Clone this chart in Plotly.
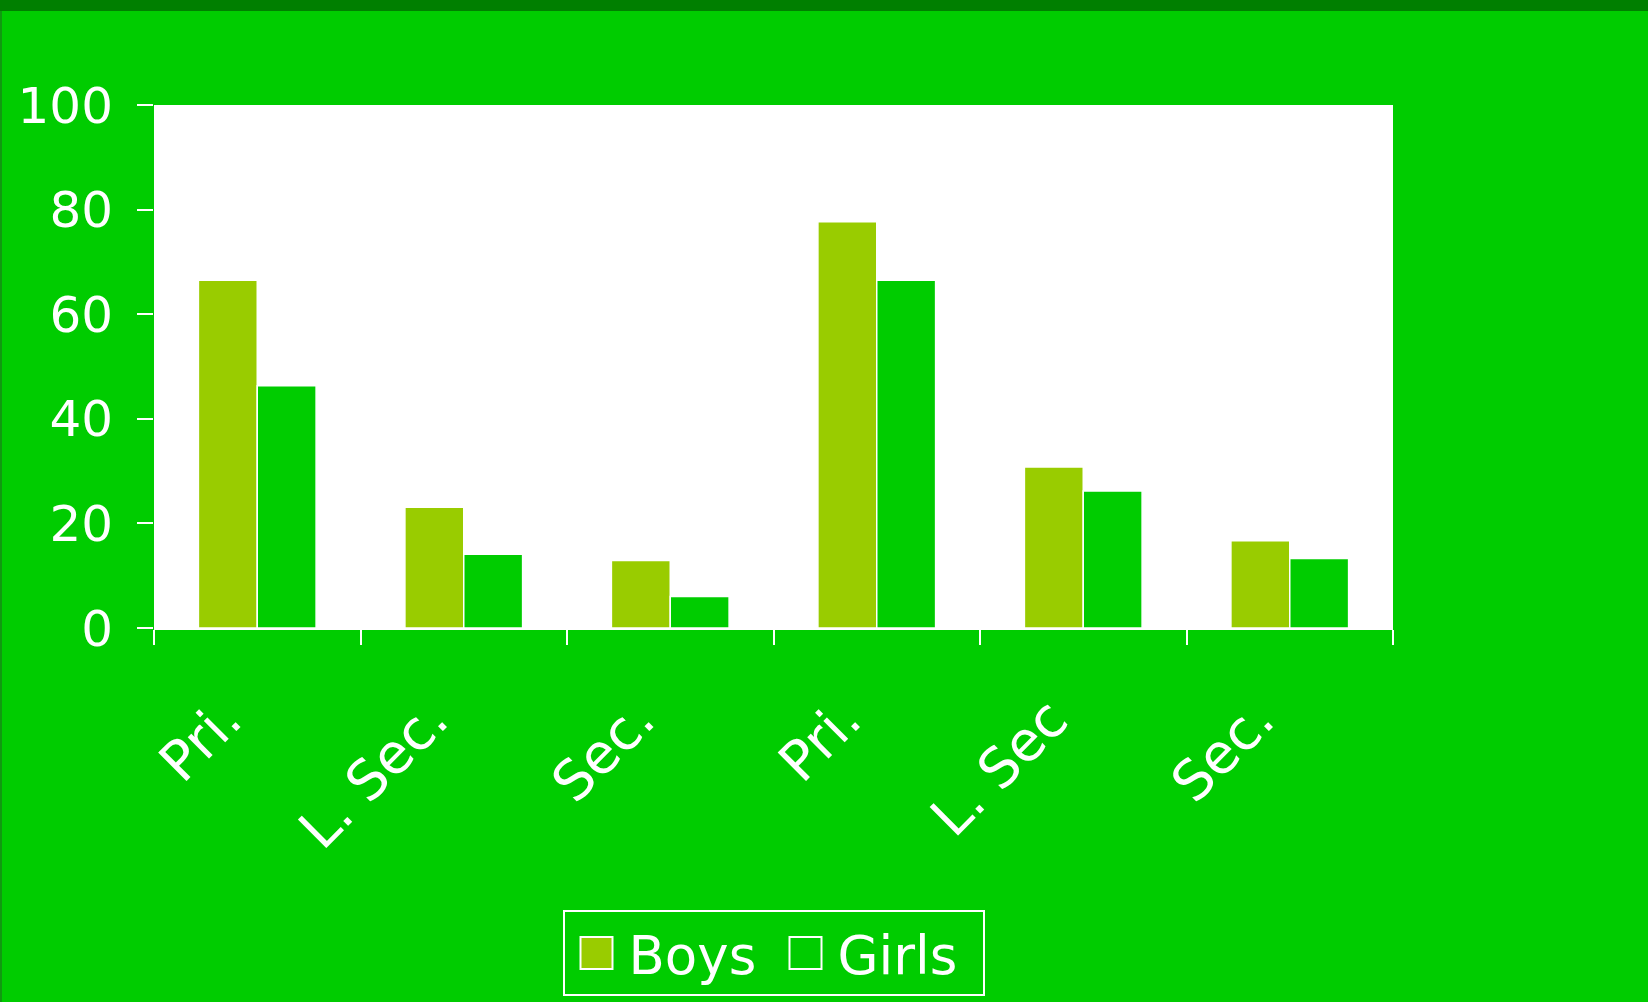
import plotly.graph_objects as go

categories = ["Pri.", "L. Sec.", "Sec.", "Pri.", "L. Sec", "Sec."]
boys = [66.5, 23.1, 12.9, 77.7, 30.8, 16.7]
girls = [46.3, 14.1, 6.0, 66.5, 26.2, 13.3]
y_ticks = [0, 20, 40, 60, 80, 100]

BG = "#00CC00"
BOYS_C = "#99CC00"
GIRLS_C = "#00CC00"
FONT = "DejaVu Sans"

W, H = 1648, 1002
ML, MR, MT, MB = 154, 255, 105, 374
PW, PH = W - ML - MR, H - MT - MB

pos = list(range(len(categories)))
bounds = [p - 0.5 for p in pos] + [pos[-1] + 0.5]

fig = go.Figure()
fig.add_trace(go.Bar(x=pos, y=boys, name="Boys", marker=dict(color=BOYS_C, line=dict(color="white", width=1.5))))
fig.add_trace(go.Bar(x=pos, y=girls, name="Girls", marker=dict(color=GIRLS_C, line=dict(color="white", width=1.5))))

fig.update_layout(
    width=W, height=H,
    margin=dict(l=ML, r=MR, t=MT, b=MB, pad=0, autoexpand=False),
    paper_bgcolor=BG, plot_bgcolor="white",
    barmode="group", bargap=0.43, bargroupgap=0.0,
    font=dict(family=FONT, color="white", size=48),
    hovermode=False,
    xaxis=dict(range=[bounds[0], bounds[-1]], tickvals=pos, ticktext=categories,
               tickangle=-45, ticks="", showgrid=False, zeroline=False, automargin=False,
               showline=True, linecolor="white", linewidth=2,
               minor=dict(tickvals=bounds, ticks="outside", ticklen=15, tickwidth=2,
                          tickcolor="white", showgrid=False),
               tickfont=dict(size=55, color="white", family=FONT),
               ticklabelstandoff=35, ticklabelshift=-32),
    yaxis=dict(range=[0, 100], tickvals=y_ticks, ticks="outside", ticklen=16, tickwidth=2,
               tickcolor="white", showgrid=False, zeroline=False, showline=False, automargin=False,
               tickfont=dict(size=50, color="white", family=FONT), ticklabelstandoff=14),
    legend=dict(orientation="h", x=0.5, xanchor="center", y=(0 - (910 - (MT + PH))) / PH,
                yanchor="top", bordercolor="white", borderwidth=2, bgcolor="rgba(0,0,0,0)",
                itemwidth=54, entrywidth=140, entrywidthmode="pixels",
                font=dict(size=53, color="white", family=FONT), traceorder="normal"),
    shapes=[
        dict(type="rect", xref="paper", yref="paper", x0=-ML / PW, x1=1 + MR / PW,
             y0=1 + (MT - 11) / PH, y1=1 + MT / PH, fillcolor="#007F00", line=dict(width=0), layer="above"),
        dict(type="rect", xref="paper", yref="paper", x0=-ML / PW, x1=(2 - ML) / PW,
             y0=-MB / PH, y1=1 + (MT - 11) / PH, fillcolor="#119911", line=dict(width=0), layer="above"),
    ],
)

post = """
document.body.style.margin = '0';
document.querySelectorAll('.legendpoints path').forEach(function(p){
  p.setAttribute('d', 'M16,16H-16V-16H16Z');
  p.style.strokeWidth = '2px';
});
"""

fig.write_html("out.html", post_script=post, config={"displayModeBar": False})
